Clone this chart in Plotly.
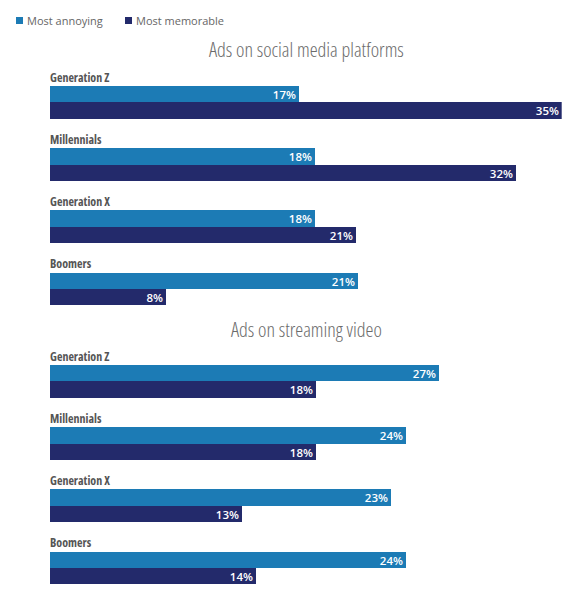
import plotly.graph_objects as go

groups = ["Generation Z", "Millennials", "Generation X", "Boomers"]
sections = ["Ads on social media platforms", "Ads on streaming video"]
# bar lengths (labels show them rounded)
annoying = [[17.0, 18.1, 18.1, 21.1], [26.6, 24.35, 23.3, 24.35]]
memorable = [[35.0, 31.9, 20.9, 7.9], [18.2, 18.2, 13.1, 14.1]]
series_names = ["Most annoying", "Most memorable"]
colors = ["#1c7bb5", "#232a6b"]

# page body has an 8px margin; work in reference pixel coords and compensate
OFF = 8
W, H = 580 - OFF, 593 - OFF
def px(x):
    return (x - OFF) / W

section_top = [86, 365]
title_y = [49, 329]
period = 62.2
bar_h = 16.4

fig = go.Figure()
for s_idx, vals_list in enumerate([annoying, memorable]):
    ys, xs = [], []
    for sec in range(2):
        for g in range(4):
            ys.append(section_top[sec] + g * period + bar_h / 2 + s_idx * bar_h)
            xs.append(vals_list[sec][g])
    fig.add_trace(go.Bar(
        x=xs, y=ys, orientation="h", width=bar_h,
        name=series_names[s_idx], marker=dict(color=colors[s_idx], line=dict(width=0)),
        texttemplate="%{x:.0f}%", textposition="inside", insidetextanchor="end",
        textfont=dict(family="Open Sans", size=11.5, color="white", weight=600),
        hoverinfo="skip", showlegend=False,
    ))

annotations = []
shapes = []
for sec in range(2):
    annotations.append(dict(
        text=f'<span style="font-stretch:condensed">{sections[sec]}</span>',
        x=px(306), xref="paper", y=title_y[sec], yref="y",
        showarrow=False, xanchor="center", yanchor="middle",
        font=dict(family="Open Sans", size=20, color="#6b6b6b", weight=300),
    ))
    for g in range(4):
        annotations.append(dict(
            text=f'<span style="font-stretch:condensed">{groups[g]}</span>',
            x=px(48), xref="paper",
            y=section_top[sec] + g * period - 9, yref="y",
            showarrow=False, xanchor="left", yanchor="middle",
            font=dict(family="Open Sans", size=12, color="#555555", weight="bold"),
        ))

# legend
leg_sq_x = [16, 125]
leg_txt_x = [25, 134]
for i in range(2):
    shapes.append(dict(type="rect", xref="paper", yref="y",
                       x0=px(leg_sq_x[i]), x1=px(leg_sq_x[i] + 7), y0=17, y1=24,
                       fillcolor=colors[i], line=dict(width=0)))
    annotations.append(dict(
        text=series_names[i], x=px(leg_txt_x[i]), xref="paper", y=20.5, yref="y",
        showarrow=False, xanchor="left", yanchor="middle",
        font=dict(family="Open Sans", size=11, color="#666666"),
    ))

fig.update_layout(
    width=W, height=H,
    margin=dict(l=0, r=0, t=0, b=0),
    paper_bgcolor="white", plot_bgcolor="white",
    barmode="overlay",
    bargap=0,
    xaxis=dict(range=[0, 35], domain=[px(50), px(561.7)], visible=False, fixedrange=True),
    yaxis=dict(range=[593, OFF], domain=[0, 1], visible=False, fixedrange=True),
    showlegend=False,
    uniformtext=dict(minsize=11, mode="show"),
    annotations=annotations,
    shapes=shapes,
)

fig.write_html("out.html")
